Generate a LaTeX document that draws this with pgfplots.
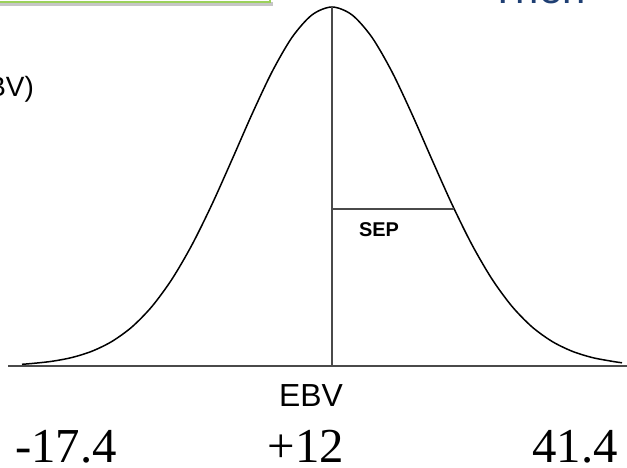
\documentclass[border=0pt]{standalone}
\usepackage{pgfplots}
\pgfplotsset{compat=1.18}
\usepackage{fontspec}
\setmainfont{Liberation Serif}
\setsansfont{Liberation Sans}
\definecolor{boxgreen}{HTML}{9BD15A}
\definecolor{titleblue}{HTML}{1F3F73}
\definecolor{axisgray}{HTML}{4A4A4A}
\begin{document}
\begin{tikzpicture}
\begin{axis}[
  scale only axis, width=627bp, height=468bp,
  xmin=0, xmax=627, ymin=0, ymax=468,
  axis lines=none, clip=false,
]
\coordinate (SW) at (axis cs:0,0);
\coordinate (NE) at (axis cs:627,468);
% green box (cut off)
\fill[gray!45] (axis cs:-10,462) rectangle (axis cs:273,466);
\draw[boxgreen, line width=2.5bp, fill=white] (axis cs:-10,466) rectangle (axis cs:270,520);
% baseline
\addplot[axisgray, line width=2bp] coordinates {(8,102) (627,102)};
% curve
\addplot[black, line width=1.5bp, smooth] coordinates {
(22,103.7) (32,104.5) (52,106.7) (72,110.5) (92,116.8) (112,126.6) (132,141.1)
(152,161.6) (172,188.9) (192,223.2) (212,263.7) (232,308.3) (252,353.8)
(272,396.1) (292,430.6) (312,453.1) (332,461) (352,453.1) (372,430.6)
(392,396.1) (412,353.8) (432,308.3) (452,263.7) (472,223.2) (492,188.9)
(512,161.6) (532,141.1) (552,126.6) (572,116.8) (592,110.5) (612,106.7) (622,105.2)};
% mean line
\addplot[axisgray, line width=1.3bp] coordinates {(332,102) (332,461)};
% SEP line
\addplot[axisgray, line width=1.3bp] coordinates {(332,259) (454,259)};
% labels
\node[font=\sffamily\bfseries\fontsize{20}{20}\selectfont] at (axis cs:379,238) {SEP};
\node[font=\sffamily\fontsize{32}{32}\selectfont] at (axis cs:311,72.5) {EBV};
\node[font=\fontsize{49}{49}\selectfont, anchor=base, inner sep=0pt] at (axis cs:66,5) {-17.4};
\node[font=\fontsize{49}{49}\selectfont, anchor=base, inner sep=0pt] at (axis cs:306,5) {+12};
\node[font=\fontsize{49}{49}\selectfont, anchor=base, inner sep=0pt] at (axis cs:575,5) {41.4};
\node[font=\sffamily\fontsize{28}{28}\selectfont, anchor=base east, inner sep=0pt] at (axis cs:34,371) {(EBV)};
\node[font=\sffamily\fontsize{42}{42}\selectfont, text=titleblue, anchor=base west, inner sep=0pt] at (axis cs:490,464) {Then};
\end{axis}
\pgfresetboundingbox
\useasboundingbox (SW) rectangle (NE);
\end{tikzpicture}
\end{document}
